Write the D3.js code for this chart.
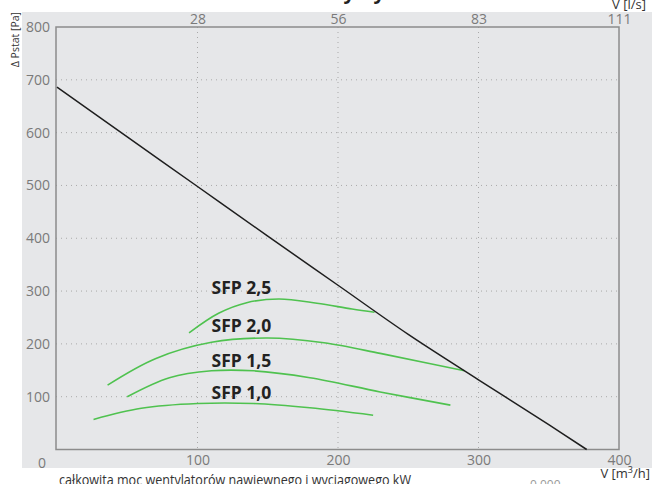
<!DOCTYPE html>
<html><head><meta charset="utf-8">
<script src="https://cdn.jsdelivr.net/npm/d3@7"></script>
<style>
html,body{margin:0;padding:0;background:#fff;}
svg{display:block;font-family:"Open Sans",sans-serif;}
</style></head>
<body><svg id="c" width="652" height="484"></svg>
<script>
// ---- data ----
const xTicks = [100, 200, 300, 400];          // m3/h
const yTicks = [0, 100, 200, 300, 400, 500, 600, 700, 800]; // Pa
const systemCurve = [[0,686],[50,592],[100,498],[150,404],[200,311],[250,218],[300,132],[350,47],[377,0]];
const sfpNames = ["SFP 2,5","SFP 2,0","SFP 1,5","SFP 1,0"];
const sfp25 = [[94,221],[115,258],[135,278],[158,285],[185,277],[210,266],[226,260]];
const sfp20 = [[36,122],[70,172],[110,203],[150,211],[190,202],[230,182],[265,163],[290,149]];
const sfp15 = [[50,100],[80,136],[110,149],[140,149],[180,136],[230,109],[280,84]];
const sfp10 = [[26,57],[60,78],[100,87],[140,87],[180,79],[225,65]];
const sfpSeries = [sfp25, sfp20, sfp15, sfp10];
const labelAnchors = [[110,294],[110,223],[110,156],[110,95]]; // data units (m3/h, Pa)

// ---- layout ----
const svg = d3.select("#c");
const L = 57, R = 619, T = 27, B = 449.5;
const x = d3.scaleLinear().domain([0,400]).range([L,R]);
const xTop = d3.scaleLinear().domain([0,400/3.6]).range([L,R]);
const y = d3.scaleLinear().domain([0,800]).range([B,T]);

// background
svg.append("rect").attr("x",22).attr("y",12).attr("width",630).attr("height",456).attr("fill","#e6e7e9");

// title (cut off at top)
svg.append("text").attr("x",326).attr("y",-1).attr("text-anchor","middle")
  .attr("font-weight","bold").attr("font-size",20).attr("fill","#222").text("Charakterystyka");

// grid
const g = svg.append("g");
g.selectAll("line.h").data(yTicks.filter(d=>d>0 && d<800)).join("line")
  .attr("x1",L-1).attr("x2",R).attr("y1",d=>y(d)).attr("y2",d=>y(d))
  .attr("stroke","#a9a9a9").attr("stroke-width",1).attr("stroke-dasharray","1,4");
g.selectAll("line.v").data(xTicks.filter(d=>d<400)).join("line")
  .attr("x1",d=>x(d)).attr("x2",d=>x(d)).attr("y1",T).attr("y2",B)
  .attr("stroke","#a9a9a9").attr("stroke-width",1).attr("stroke-dasharray","1,4");

// frame
svg.append("rect").attr("x",L-1).attr("y",T).attr("width",R-L+1).attr("height",B-T)
  .attr("fill","none").attr("stroke","#8c8c8c").attr("stroke-width",1.5);

// axes (using d3 axes, domain/ticks hidden)
const tickStyle = sel => {
  sel.select(".domain").remove();
  sel.selectAll(".tick line").remove();
  sel.selectAll("text").attr("fill","#7a7a7a").attr("font-size",14)
     .attr("font-family","\"Open Sans\",sans-serif");
};
svg.append("g").attr("transform",`translate(0,${B+6})`)
  .call(d3.axisBottom(x).tickValues(xTicks).tickSize(0).tickPadding(0))
  .call(tickStyle);
svg.append("g").attr("transform",`translate(0,24)`)
  .call(d3.axisTop(xTop).tickValues(xTicks.map(v=>v/3.6)).tickFormat(d=>Math.round(d)).tickSize(0).tickPadding(0))
  .call(tickStyle);
const yAx = svg.append("g").attr("transform",`translate(${L-7},0)`)
  .call(d3.axisLeft(y).tickValues(yTicks).tickSize(0).tickPadding(0))
  .call(tickStyle);
yAx.selectAll(".tick").filter(d=>d===0).select("text").attr("dy","1.25em").attr("dx",-4);

// axis titles
svg.append("text").attr("transform","translate(19,12) rotate(-90)").attr("text-anchor","end")
  .attr("font-size",10.5).attr("fill","#333").text("Δ Pstat [Pa]");
svg.append("text").attr("x",646).attr("y",9).attr("text-anchor","end")
  .attr("font-size",13).attr("fill","#333").text("V [l/s]");
const vm = svg.append("text").attr("x",650).attr("y",478).attr("text-anchor","end")
  .attr("font-size",13).attr("fill","#333");
vm.append("tspan").text("V [m");
vm.append("tspan").attr("font-size",9).attr("dy",-5).text("3");
vm.append("tspan").attr("dy",5).text("/h]");
svg.append("text").attr("x",59).attr("y",485).attr("font-size",15).attr("fill","#333")
  .attr("textLength",352).attr("lengthAdjust","spacingAndGlyphs")
  .text("całkowita moc wentylatorów nawiewnego i wyciągowego kW");
svg.append("text").attr("x",530).attr("y",489).attr("font-size",12).attr("fill","#999").text("0,000");

// curves
const line = d3.line().x(d=>x(d[0])).y(d=>y(d[1])).curve(d3.curveCatmullRom.alpha(0.5));
svg.append("g").selectAll("path").data(sfpSeries).join("path")
  .attr("d",line).attr("fill","none").attr("stroke","#4fc24f").attr("stroke-width",1.6);
svg.append("path").datum(systemCurve).attr("d",line).attr("fill","none")
  .attr("stroke","#1e1e1e").attr("stroke-width",1.5);

// labels
svg.append("g").selectAll("text").data(sfpNames).join("text")
  .attr("x",(d,i)=>x(labelAnchors[i][0])).attr("y",(d,i)=>y(labelAnchors[i][1]))
  .attr("font-size",17.5).attr("font-weight","bold").attr("fill","#222").text(d=>d);
</script></body></html>
